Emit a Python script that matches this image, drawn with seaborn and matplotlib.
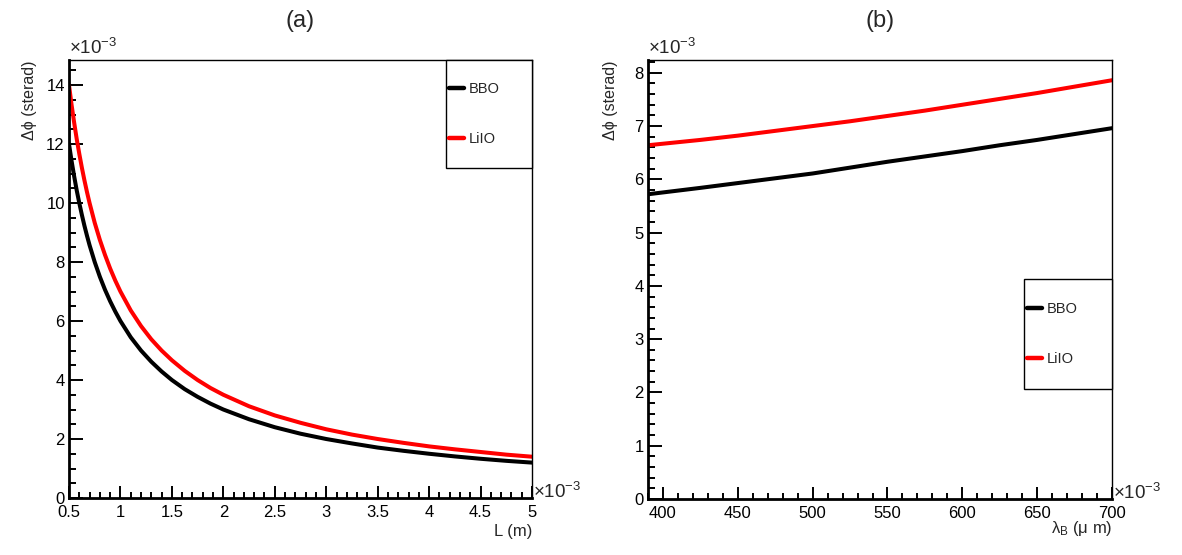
import pandas as pd
import matplotlib
matplotlib.use("Agg")
import matplotlib.pyplot as plt
from matplotlib.ticker import MultipleLocator, FormatStrFormatter
from matplotlib.patches import Rectangle
from matplotlib.lines import Line2D
import seaborn as sns

# dados (unidades de 1e-3)
L_mm = [0.5, 0.525, 0.55, 0.575, 0.6, 0.625, 0.65, 0.675, 0.7, 0.75, 0.8, 0.85,
        0.9, 0.95, 1.0, 1.1, 1.2, 1.3, 1.4, 1.5, 1.625, 1.75, 1.875, 2.0, 2.25,
        2.5, 2.75, 3.0, 3.25, 3.5, 3.75, 4.0, 4.25, 4.5, 4.75, 5.0]
bbo_L = [12.0, 11.43, 10.91, 10.43, 10.0, 9.6, 9.23, 8.89, 8.57, 8.0, 7.5, 7.06,
         6.67, 6.32, 6.0, 5.45, 5.0, 4.62, 4.29, 4.0, 3.69, 3.43, 3.2, 3.0, 2.67,
         2.4, 2.18, 2.0, 1.85, 1.71, 1.6, 1.5, 1.41, 1.33, 1.26, 1.2]
liio_L = [14.0, 13.33, 12.73, 12.17, 11.67, 11.2, 10.77, 10.37, 10.0, 9.33, 8.75, 8.24,
          7.78, 7.37, 7.0, 6.36, 5.83, 5.38, 5.0, 4.67, 4.31, 4.0, 3.73, 3.5, 3.11,
          2.8, 2.55, 2.33, 2.15, 2.0, 1.87, 1.75, 1.65, 1.56, 1.47, 1.4]

lam = [390, 425, 450, 475, 500, 525, 550, 575, 600, 625, 650, 675, 700]
bbo_lam = [5.72, 5.84, 5.93, 6.02, 6.11, 6.22, 6.33, 6.43, 6.53, 6.64, 6.74, 6.85, 6.96]
liio_lam = [6.64, 6.74, 6.82, 6.91, 7.00, 7.09, 7.19, 7.29, 7.40, 7.51, 7.62, 7.74, 7.86]

cristais = ["BBO", "LiIO"]
cores = {"BBO": "black", "LiIO": "red"}

df_a = pd.DataFrame({
    "x": L_mm + L_mm,
    "y": bbo_L + liio_L,
    "cristal": ["BBO"] * len(L_mm) + ["LiIO"] * len(L_mm),
})
df_b = pd.DataFrame({
    "x": lam + lam,
    "y": bbo_lam + liio_lam,
    "cristal": ["BBO"] * len(lam) + ["LiIO"] * len(lam),
})

sns.set_theme(style="white")
plt.rcParams['font.family'] = ['Liberation Sans', 'DejaVu Sans']
plt.rcParams['mathtext.fontset'] = 'custom'
plt.rcParams['mathtext.rm'] = 'Liberation Sans'
plt.rcParams['mathtext.it'] = 'Liberation Sans:italic'
plt.rcParams['mathtext.bf'] = 'Liberation Sans:bold'

fig = plt.figure(figsize=(11.82, 5.55), dpi=100)
W, H = 1182, 555

def px_axes(x0, x1, y0, y1):
    return fig.add_axes([x0 / W, 1 - y1 / H, (x1 - x0) / W, (y1 - y0) / H])

ax_a = px_axes(69, 532, 60, 498)
ax_b = px_axes(648, 1112, 60, 499)

paineis = [
    (ax_a, df_a, (0.5, 5), (0, 14.85), 0.5, 0.1, 2, 0.5, "L (m)", "(a)",
     (0.814, 0.753, 0.186, 0.247), -0.060, -0.069),
    (ax_b, df_b, (390, 700), (0, 8.24), 50, 10, 1, 0.2,
     r"λ$_{\mathrm{B}}$ (μ m)", "(b)", (0.810, 0.2506, 0.190, 0.2504), -0.045, -0.065),
]

for (ax, df, xl, yl, xmaj, xmin, ymaj, ymin, xlab, titulo, caixa, xlab_y, ylab_x) in paineis:
    sns.lineplot(data=df, x="x", y="y", hue="cristal", palette=cores,
                 linewidth=2.9, legend=False, errorbar=None, ax=ax)
    ax.set_xlim(*xl)
    ax.set_ylim(*yl)
    ax.xaxis.set_major_locator(MultipleLocator(xmaj))
    ax.xaxis.set_minor_locator(MultipleLocator(xmin))
    ax.yaxis.set_major_locator(MultipleLocator(ymaj))
    ax.yaxis.set_minor_locator(MultipleLocator(ymin))
    ax.xaxis.set_major_formatter(FormatStrFormatter('%g'))
    ax.yaxis.set_major_formatter(FormatStrFormatter('%g'))
    ax.tick_params(which='both', direction='in', top=False, right=False,
                   bottom=True, left=True,
                   labelsize=12, color='black', labelcolor='black', width=1.4)
    ax.tick_params(axis='y', which='major', length=10, pad=3)
    ax.tick_params(axis='y', which='minor', length=5)
    ax.tick_params(axis='x', which='major', length=9, pad=5)
    ax.tick_params(axis='x', which='minor', length=4.5)
    for s in ['left', 'bottom']:
        ax.spines[s].set_linewidth(2.0)
        ax.spines[s].set_color('black')
    for s in ['top', 'right']:
        ax.spines[s].set_linewidth(1.0)
        ax.spines[s].set_color('black')

    ax.set_xlabel(xlab, fontsize=12, loc='right')
    ax.xaxis.set_label_coords(1.0, xlab_y)
    ax.set_ylabel("Δϕ (sterad)", fontsize=11.5, loc='top')
    ax.yaxis.set_label_coords(ylab_x, 1.0)

    # fatores de escala estilo ROOT
    ax.text(0.0, 1.004, r"$\times$10$^{-3}$", transform=ax.transAxes,
            ha='left', va='bottom', fontsize=13.5)
    ax.text(1.002, 0.0, r"$\times$10$^{-3}$", transform=ax.transAxes,
            ha='left', va='baseline', fontsize=13.5)

    # titulo do painel
    pos = ax.get_position()
    fig.text((pos.x0 + pos.x1) / 2, 1 - 21 / H, titulo, ha='center', va='center', fontsize=17)

    # legenda com caixa
    x0, y0, w, h = caixa
    ax.add_patch(Rectangle((x0, y0), w, h, transform=ax.transAxes, fill=True,
                           facecolor='white', edgecolor='black', linewidth=1.0,
                           clip_on=False, zorder=5))
    handles = [Line2D([], [], color=cores[c], linewidth=3.2) for c in cristais]
    leg = ax.legend(handles, cristais, loc='center left', bbox_to_anchor=(x0, y0 + h / 2),
                    frameon=False, fontsize=10.5, handlelength=1.05, handletextpad=0.3,
                    labelspacing=2.5, borderpad=0.2, borderaxespad=0)
    leg.set_zorder(6)

plt.savefig("out.png", dpi=100)
